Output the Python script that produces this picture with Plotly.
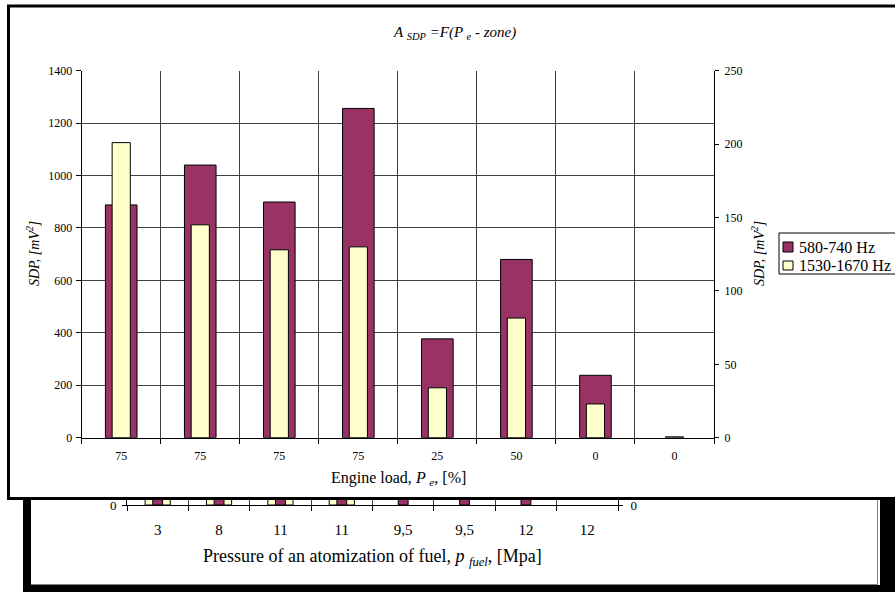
import plotly.graph_objects as go

# ---------------- data ----------------
# front chart: SDP vs engine load
load_labels = ["75", "75", "75", "75", "25", "50", "0", "0"]
sdp_580_740 = [888, 1040, 899, 1256, 377, 680, 238, None]       # left axis [mV^2]
sdp_1530_1670 = [201, 145, 128, 130, 34, 81.5, 23, 0.6]         # right axis [mV^2]
series_names = ["580-740 Hz", "1530-1670 Hz"]
left_ticks = [0, 200, 400, 600, 800, 1000, 1200, 1400]
right_ticks = [0, 50, 100, 150, 200, 250]

# back chart (mostly hidden): SDP vs fuel atomization pressure
pressure_labels = ["3", "8", "11", "11", "9,5", "9,5", "12", "12"]
back_1530_1670 = [201, 145, 130, 128, None, None, None, None]
back_580_740 = [888, 1040, 1256, 899, 377, 680, 238, None]
back_left_ticks = [0, 50, 100, 150, 200, 250]
back_right_ticks = [0, 200, 400, 600, 800, 1000, 1200, 1400]

# ---------------- styling helpers ----------------
W, H = 895, 592
def px(x):
    return x / W
def py(y):
    return 1 - y / H

SERIF = "Liberation Serif, Times New Roman, serif"
MAROON = "#993366"
IVORY = "#FFFFCC"
GRID = "#404040"

n = len(load_labels)
pos = list(range(n))
bounds = [i - 0.5 for i in range(n + 1)]

fig = go.Figure()

# back chart bars
fig.add_trace(go.Bar(x=pos, y=back_1530_1670, xaxis="x", yaxis="y", width=0.41,
                     marker=dict(color=IVORY, line=dict(color="black", width=1)),
                     name=series_names[1], showlegend=False, hoverinfo="skip"))
fig.add_trace(go.Bar(x=pos, y=back_580_740, xaxis="x", yaxis="y2", width=0.16,
                     marker=dict(color=MAROON, line=dict(color="black", width=1)),
                     name=series_names[0], showlegend=False, hoverinfo="skip"))
# cover subplot (white background of the front chart)
fig.add_trace(go.Scatter(x=[0], y=[0], xaxis="x2", yaxis="y3", mode="markers",
                         marker=dict(opacity=0), showlegend=False, hoverinfo="skip"))
# front chart bars
fig.add_trace(go.Bar(x=pos, y=sdp_580_740, xaxis="x3", yaxis="y4", width=0.40,
                     marker=dict(color=MAROON, line=dict(color="black", width=1)),
                     name=series_names[0], showlegend=False))
fig.add_trace(go.Bar(x=pos, y=sdp_1530_1670, xaxis="x3", yaxis="y5", width=0.23,
                     marker=dict(color=IVORY, line=dict(color="black", width=1)),
                     name=series_names[1], showlegend=False))

tickfont_s = dict(family=SERIF, size=12, color="black")
tickfont_l = dict(family=SERIF, size=15, color="black")

def cat_axis(domain, anchor, labels, font, standoff):
    return dict(domain=domain, anchor=anchor, range=[-0.5, n - 0.5],
                tickmode="array", tickvals=pos, ticktext=labels, ticks="",
                tickfont=font, ticklabelstandoff=standoff,
                showline=True, linecolor="black", linewidth=1,
                showgrid=False, zeroline=False, fixedrange=True,
                minor=dict(tickmode="array", tickvals=bounds, ticks="outside",
                           ticklen=5, tickcolor="black", tickwidth=1,
                           showgrid=True, gridcolor=GRID, gridwidth=1))

def val_axis(domain, anchor, rng, tickvals, font, grid, side="left",
             overlaying=None, standoff=0, ticklen=5):
    d = dict(anchor=anchor, range=rng, tickmode="array", tickvals=tickvals,
             ticks="outside", ticklen=ticklen, tickcolor="black", tickwidth=1,
             tickfont=font, showline=True, linecolor="black", linewidth=1,
             showgrid=grid, gridcolor=GRID, gridwidth=1, zeroline=False,
             side=side, fixedrange=True, ticklabelstandoff=standoff)
    if overlaying:
        d["overlaying"] = overlaying
    else:
        d["domain"] = domain
    return d

back_x_dom = [px(127), px(618)]
back_y_dom = [py(505), py(150)]
cover_x_dom = [px(8), 1]
cover_y_dom = [py(498), py(6)]
front_x_dom = [px(81.7), px(714)]
front_y_dom = [py(437.7), py(70.7)]

fig.update_layout(
    xaxis=cat_axis(back_x_dom, "y", pressure_labels, tickfont_l, 11),
    yaxis=val_axis(back_y_dom, "x", [0, 250], back_left_ticks,
                   dict(family=SERIF, size=13, color="black"), False, standoff=3, ticklen=4),
    yaxis2=val_axis(None, "x", [0, 1400], back_right_ticks,
                    dict(family=SERIF, size=13, color="black"), False, side="right",
                    overlaying="y", standoff=5, ticklen=4),
    xaxis2=dict(domain=cover_x_dom, anchor="y3", visible=False, range=[0, 1], fixedrange=True),
    yaxis3=dict(domain=cover_y_dom, anchor="x2", visible=False, range=[0, 1], fixedrange=True),
    xaxis3=cat_axis(front_x_dom, "y4", load_labels, tickfont_s, 7),
    yaxis4=val_axis(front_y_dom, "x3", [0, 1400], left_ticks, tickfont_s, True, standoff=1),
    yaxis5=val_axis(None, "x3", [0, 250], right_ticks, tickfont_s, False, side="right",
                    overlaying="y4", standoff=3, ticklen=4),
)

annotations = [
    dict(text="<i>A <sub>SDP</sub> =F(P <sub>e</sub> - zone)</i>", x=px(454), y=py(33),
         font=dict(family=SERIF, size=15, color="black")),
    dict(text="Engine load, <i>P <sub>e</sub></i>, [%]", x=px(398), y=py(478),
         font=dict(family=SERIF, size=16, color="black")),
    dict(text="<i>SDP, [mV<sup>2</sup>]</i>", x=px(33), y=py(254), textangle=-90,
         font=dict(family=SERIF, size=14, color="black")),
    dict(text="<i>SDP, [mV<sup>2</sup>]</i>", x=px(758), y=py(254), textangle=-90,
         font=dict(family=SERIF, size=14, color="black")),
    dict(text="Pressure of an atomization of fuel, <i>p <sub>fuel</sub></i>, [Mpa]",
         x=px(372.5), y=py(557), font=dict(family=SERIF, size=18, color="black")),
    dict(text=series_names[0], x=px(797), y=py(247), xanchor="left",
         font=dict(family=SERIF, size=16, color="black")),
    dict(text=series_names[1], x=px(797), y=py(265.5), xanchor="left",
         font=dict(family=SERIF, size=16, color="black")),
]
for a in annotations:
    a.setdefault("xanchor", "center")
    a.update(xref="paper", yref="paper", yanchor="middle", showarrow=False)
fig.update_layout(annotations=annotations)

def rect(x0, y0, x1, y1, fill=None, line="black", lw=1):
    return dict(type="rect", xref="paper", yref="paper", layer="above",
                x0=px(x0), x1=px(x1), y0=py(y1), y1=py(y0),
                fillcolor=fill if fill else "rgba(0,0,0,0)",
                line=dict(color=line, width=lw))

def hline(x0, x1, y, color="black", lw=1):
    return dict(type="line", xref="paper", yref="paper", layer="above",
                x0=px(x0), x1=px(x1), y0=py(y), y1=py(y), line=dict(color=color, width=lw))

def vline(x, y0, y1, color="black", lw=1):
    return dict(type="line", xref="paper", yref="paper", layer="above",
                x0=px(x), x1=px(x), y0=py(y0), y1=py(y1), line=dict(color=color, width=lw))

shapes = [
    # back chart frame (visible part)
    rect(23, 499, 31, 592, fill="black", lw=0),
    rect(23, 585, 895, 592, fill="black", lw=0),
    rect(880, 499, 895, 592, fill="black", lw=0),
    vline(877.5, 499, 585, color="#808080"),
    hline(31, 878, 584.5, color="#808080"),
    # front chart frame
    hline(7, 895, 6, lw=3),
    vline(8.5, 5, 500, lw=3),
    hline(7, 895, 498.5, lw=3),
    # legend
    rect(779, 233, 900, 274, line="black", lw=1),
    rect(783, 242, 793, 252, fill=MAROON, lw=1),
    rect(783, 261, 793, 270, fill=IVORY, lw=1),
]
fig.update_layout(shapes=shapes)

fig.update_layout(
    template="none",
    width=W, height=H,
    margin=dict(l=0, r=0, t=0, b=0),
    paper_bgcolor="white", plot_bgcolor="white",
    barmode="overlay", showlegend=False,
    font=dict(family=SERIF, color="black"),
)

fig.write_html(
    "out.html",
    config={"displayModeBar": False},
    post_script="document.body.style.margin='0';document.body.style.padding='0';"
                "document.body.style.overflow='hidden';",
)
